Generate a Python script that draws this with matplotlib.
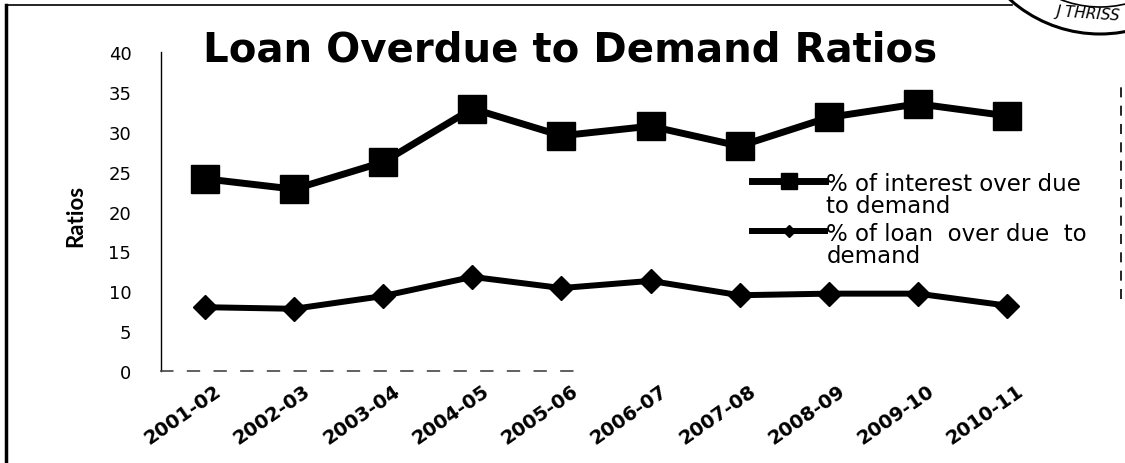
import numpy as np
import matplotlib.pyplot as plt
from matplotlib import patches
from matplotlib.lines import Line2D
from matplotlib.legend_handler import HandlerLine2D
from matplotlib.transforms import ScaledTranslation

# years on the category axis
years = ["2001-02", "2002-03", "2003-04", "2004-05", "2005-06",
         "2006-07", "2007-08", "2008-09", "2009-10", "2010-11"]

# % of interest over due to demand
interest_ratio = [24.1, 22.8, 26.2, 32.9, 29.5, 30.7, 28.2, 31.8, 33.5, 32.0]

# % of loan over due to demand
loan_ratio = [8.0, 7.8, 9.4, 11.8, 10.4, 11.3, 9.5, 9.7, 9.7, 8.2]

y_ticks = [0, 5, 10, 15, 20, 25, 30, 35, 40]


class FirstLineHandler(HandlerLine2D):
    """legend handle drawn level with the first line of a two-line label"""
    def create_artists(self, legend, orig_handle, xdescent, ydescent,
                       width, height, fontsize, trans):
        arts = super().create_artists(legend, orig_handle, xdescent, ydescent,
                                      width, height, fontsize, trans)
        for a in arts:
            a.set_ydata(np.asarray(a.get_ydata()) + 0.62 * fontsize)
        return arts


W, H = 1125, 464
fig = plt.figure(figsize=(W / 100, H / 100), dpi=100)
fig.patch.set_facecolor("white")

# axes placed in pixel units
left, right, top, bottom = 160.5, 1051.5, 53, 372
ax = fig.add_axes([left / W, 1 - bottom / H, (right - left) / W, (bottom - top) / H])

x = np.arange(len(years))
ax.plot(x, interest_ratio, color="black", lw=5, marker="s", ms=20,
        solid_joinstyle="round", label="% of interest over due\nto demand")
ax.plot(x, loan_ratio, color="black", lw=4.3, marker="D", ms=12,
        solid_joinstyle="round", label="% of loan  over due  to\ndemand")

ax.set_xlim(-0.5, len(years) - 0.5)
ax.set_ylim(0, 40)
ax.set_yticks(y_ticks)
ax.set_yticklabels([str(t) for t in y_ticks], fontfamily="DejaVu Sans", fontsize=13)
ax.set_xticks(x)
ax.set_xticklabels(years, rotation=35, ha="right", va="top", rotation_mode="anchor",
                   fontfamily="DejaVu Sans", fontsize=14, fontweight="bold")
ax.tick_params(axis="both", length=0)
ax.tick_params(axis="y", pad=21)
ax.tick_params(axis="x", pad=7)
shift = ScaledTranslation(9 / 100, 0, fig.dpi_scale_trans)
for lbl in ax.get_xticklabels():
    lbl.set_transform(lbl.get_transform() + shift)

for s in ["top", "right"]:
    ax.spines[s].set_visible(False)
ax.spines["left"].set_linewidth(1.0)
ax.spines["bottom"].set_linewidth(1.2)
ax.spines["bottom"].set_linestyle((0, (7, 9)))
ax.spines["bottom"].set_color("#444444")
ax.spines["bottom"].set_bounds(-0.5, 4.2)

ax.set_ylabel("Ratios", fontfamily="Lato", fontsize=16, fontweight="bold")
ax.yaxis.set_label_coords((86 - left) / (right - left), 0.49)

leg = ax.legend(loc="upper left",
                bbox_to_anchor=((752 - left) / (right - left), 1 - (173 - top) / (bottom - top)),
                frameon=False, handlelength=3.2, handletextpad=0.05, borderaxespad=0,
                borderpad=0, labelspacing=0.22, prop={"family": "DejaVu Sans", "size": 16.5},
                markerscale=0.55, handler_map={Line2D: FirstLineHandler()})
for t in leg.get_texts():
    t.set_linespacing(0.95)

fig.text(570 / W, 1 - 62 / H, "Loan Overdue to Demand Ratios", ha="center", va="baseline",
         fontsize=29, fontweight="bold", fontfamily="DejaVu Sans")

# page border around the chart
fig.add_artist(Line2D([6 / W, 6 / W], [0, 1 - 6 / H], color="black", lw=2.5))
fig.add_artist(Line2D([6 / W, 1012 / W], [1 - 6 / H, 1 - 6 / H], color="black", lw=1.2))
fig.add_artist(Line2D([1121 / W, 1121 / W], [1 - 300 / H, 1 - 85 / H], color="black", lw=1.2,
                      linestyle=(0, (6, 5))))

# partial office stamp in the corner
outer = patches.Arc((1100 / W, 1 + 100 / H), 270 / W, 270 / H, theta1=215, theta2=325,
                    transform=fig.transFigure, color="black", lw=2.2)
inner = patches.Arc((1100 / W, 1 + 100 / H), 216 / W, 216 / H, theta1=215, theta2=330,
                    transform=fig.transFigure, color="black", lw=1.2)
fig.add_artist(outer)
fig.add_artist(inner)
fig.text(1121 / W, 1 - 14 / H, "J THRISS", ha="right", va="center", fontsize=11,
         fontstyle="italic", fontfamily="DejaVu Sans Condensed", rotation=-4)

fig.savefig("out.png", dpi=100)
